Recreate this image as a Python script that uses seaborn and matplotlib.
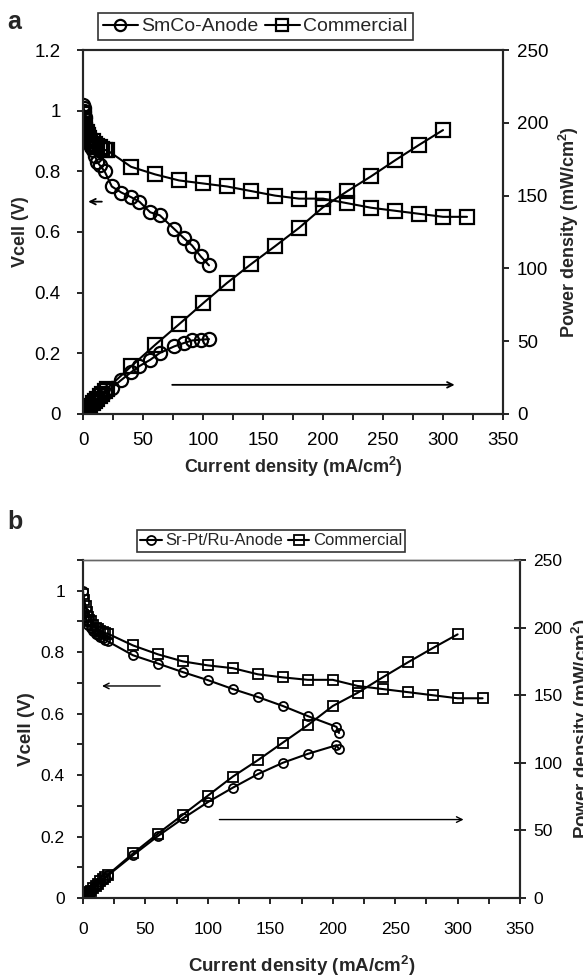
import numpy as np
import pandas as pd
import matplotlib
matplotlib.use('Agg')
import matplotlib.pyplot as plt
import seaborn as sns
from matplotlib.ticker import MultipleLocator

sns.set_style('ticks')
plt.rcParams['font.family'] = ['Liberation Sans', 'DejaVu Sans']
plt.rcParams['mathtext.fontset'] = 'custom'
plt.rcParams['mathtext.bf'] = 'Liberation Sans:bold'
plt.rcParams['mathtext.rm'] = 'Liberation Sans'

# panel a - SmCo anode vs commercial
smco_i = [0, 0.5, 1, 1.5, 2, 3, 4, 5, 6, 7, 8, 10, 12, 14, 18, 24, 32, 40, 47, 56, 64, 76, 84, 91, 98, 105]
smco_v = [1.02, 1.01, 1.0, 0.98, 0.96, 0.94, 0.92, 0.90, 0.89, 0.88, 0.87, 0.85, 0.83, 0.82, 0.80,
          0.75, 0.73, 0.715, 0.70, 0.665, 0.655, 0.61, 0.58, 0.555, 0.52, 0.49]
smco_p = [0, 0.5, 1.0, 1.5, 1.9, 2.8, 3.7, 4.5, 5.3, 6.2, 7.0, 8.5, 10.0, 11.5, 14.4,
          18.0, 23.4, 28.6, 32.9, 37.2, 41.9, 46.4, 48.7, 50.5, 51.0, 51.4]

comm_a_i = [0, 1, 2, 3, 4, 5, 6, 8, 10, 12, 14, 16, 18, 20, 40, 60, 80, 100, 120, 140, 160,
            180, 200, 220, 240, 260, 280, 300, 320]
comm_a_v = [0.99, 0.97, 0.95, 0.93, 0.92, 0.91, 0.90, 0.90, 0.89, 0.885, 0.88, 0.875, 0.87, 0.87,
            0.815, 0.79, 0.77, 0.76, 0.75, 0.735, 0.72, 0.71, 0.71, 0.695, 0.68, 0.67, 0.66, 0.65, 0.65]
comm_a_pi = comm_a_i[:-1]
comm_a_p = [0, 1.0, 1.9, 2.8, 3.7, 4.6, 5.4, 7.2, 8.9, 10.6, 12.3, 14.0, 15.7, 17.4,
            32.6, 47.4, 61.6, 76.0, 90.0, 102.9, 115.2, 127.8, 142.0, 152.9, 163.2, 174.2, 184.8, 195.0]

# panel b - Sr-Pt/Ru anode vs commercial
sr_i = [0, 1, 2, 3, 4, 6, 8, 10, 12, 14, 16, 18, 20, 40, 60, 80, 100, 120, 140, 160, 180, 203, 205]
sr_v = [1.0, 0.93, 0.915, 0.90, 0.89, 0.88, 0.87, 0.86, 0.855, 0.85, 0.845, 0.84, 0.835,
        0.79, 0.763, 0.735, 0.709, 0.68, 0.654, 0.625, 0.592, 0.557, 0.537]
sr_p = [0, 0.9, 1.8, 2.7, 3.6, 5.3, 7.0, 8.6, 10.3, 11.9, 13.5, 15.1, 16.7,
        31.6, 45.8, 58.8, 70.9, 81.6, 91.6, 100.0, 106.6, 113.0, 110.1]

comm_b_i = [0, 1, 2, 3, 4, 5, 6, 8, 10, 12, 14, 16, 18, 20, 40, 60, 80, 100, 120, 140, 160,
            180, 200, 220, 240, 260, 280, 300, 320]
comm_b_v = [0.99, 0.97, 0.95, 0.93, 0.915, 0.905, 0.90, 0.89, 0.88, 0.875, 0.87, 0.865, 0.862, 0.86,
            0.822, 0.793, 0.77, 0.757, 0.748, 0.728, 0.718, 0.71, 0.71, 0.69, 0.68, 0.67, 0.66, 0.65, 0.65]
comm_b_pi = comm_b_i[:-1]
comm_b_p = [0, 1.0, 1.9, 2.8, 3.7, 4.5, 5.4, 7.1, 8.8, 10.5, 12.2, 13.8, 15.5, 17.2,
            32.9, 47.6, 61.6, 75.7, 89.8, 101.9, 114.9, 127.8, 142.0, 151.8, 163.2, 174.2, 184.8, 195.0]

fig = plt.figure(figsize=(5.83, 9.77), dpi=100)
ax_a = fig.add_axes([0.1424, 0.5763, 0.7204, 0.3725])
ax_b = fig.add_axes([0.1424, 0.0809, 0.7496, 0.3459])


def draw(ax, x, y, marker, ms, mew):
    sns.lineplot(x=x, y=y, ax=ax, color='k', lw=1.5, marker=marker, markersize=ms,
                 markerfacecolor='none', markeredgecolor='k', markeredgewidth=mew,
                 estimator=None, sort=False)


def style_axes(ax, ax2, ymax, size, lsize):
    ax.set_xlim(0, 350)
    ax.set_ylim(0, ymax)
    ax2.set_ylim(0, 250)
    ax.xaxis.set_major_locator(MultipleLocator(50))
    ax.xaxis.set_minor_locator(MultipleLocator(25))
    ax.yaxis.set_major_locator(MultipleLocator(0.2))
    ax2.yaxis.set_major_locator(MultipleLocator(50))
    ax.yaxis.set_major_formatter(plt.FuncFormatter(lambda v, p: f'{v:g}'))
    for a in (ax, ax2):
        for s in a.spines.values():
            s.set_linewidth(1.5)
            s.set_visible(True)
        a.tick_params(which='both', direction='out', width=1.2, colors='k', labelsize=size)
        a.tick_params(which='major', length=4)
        a.tick_params(which='minor', length=4)
    ax.set_xlabel('Current density (mA/cm$^\\mathbf{2}$)', fontsize=lsize, fontweight='bold')
    ax.set_ylabel('Vcell (V)', fontsize=lsize, fontweight='bold')
    ax2.set_ylabel('Power density (mW/cm$^\\mathbf{2}$)', fontsize=lsize, fontweight='bold')


# ---- panel a
ax2_a = ax_a.twinx()
draw(ax_a, smco_i, smco_v, 'o', 9.5, 1.6)
draw(ax_a, comm_a_i, comm_a_v, 's', 10, 1.6)
draw(ax2_a, smco_i, smco_p, 'o', 9.5, 1.6)
draw(ax2_a, comm_a_pi, comm_a_p, 's', 10, 1.6)
style_axes(ax_a, ax2_a, 1.2, 13.5, 13)
ax_a.tick_params(axis='x', which='both', pad=9)
ax_a.tick_params(axis='y', which='both', pad=12)
ax2_a.tick_params(axis='y', which='both', pad=6)
ax_a.xaxis.labelpad = 4
ax_a.yaxis.labelpad = 4
ax2_a.yaxis.labelpad = 6
ax_a.annotate('', xy=(2, 0.7), xytext=(18, 0.7),
              arrowprops=dict(arrowstyle='->', color='k', lw=1.3))
ax2_a.annotate('', xy=(312, 20), xytext=(72, 20),
               arrowprops=dict(arrowstyle='->', color='k', lw=1.3))
h = ax_a.get_lines()
ax_a.legend([h[0], h[1]], ['SmCo-Anode', 'Commercial'], ncol=2, loc='lower center',
            bbox_to_anchor=(0.41, 1.0), fontsize=14, frameon=True, fancybox=False,
            edgecolor='k', handlelength=1.8, handletextpad=0.2, columnspacing=0.3,
            borderpad=0.25, markerscale=0.85).get_frame().set_linewidth(1.2)
fig.text(0.012, 0.977, 'a', fontsize=18, fontweight='bold', va='center')

# ---- panel b
ax2_b = ax_b.twinx()
draw(ax_b, sr_i, sr_v, 'o', 6.5, 1.3)
draw(ax_b, comm_b_i, comm_b_v, 's', 6.5, 1.3)
draw(ax2_b, sr_i, sr_p, 'o', 6.5, 1.3)
draw(ax2_b, comm_b_pi, comm_b_p, 's', 6.5, 1.3)
style_axes(ax_b, ax2_b, 1.1, 12.5, 13.5)
ax_b.yaxis.set_minor_locator(MultipleLocator(0.1))
ax_b.tick_params(axis='x', which='both', pad=13)
ax_b.tick_params(axis='y', which='both', pad=9)
ax2_b.tick_params(axis='y', which='both', direction='inout', length=9, pad=5)
ax_b.xaxis.labelpad = 12
ax2_b.yaxis.labelpad = 5
ax_b.spines['top'].set_linewidth(1.0)
ax_b.spines['top'].set_color('0.4')
ax2_b.spines['top'].set_linewidth(1.0)
ax2_b.spines['top'].set_color('0.4')
ax_b.annotate('', xy=(13, 0.69), xytext=(64, 0.69),
              arrowprops=dict(arrowstyle='->', color='k', lw=1.0))
ax2_b.annotate('', xy=(307, 58), xytext=(107, 58),
               arrowprops=dict(arrowstyle='->', color='k', lw=1.0))
h = ax_b.get_lines()
ax_b.legend([h[0], h[1]], ['Sr-Pt/Ru-Anode', 'Commercial'], ncol=2, loc='lower center',
            bbox_to_anchor=(0.43, 1.0), fontsize=12, frameon=True, fancybox=False,
            edgecolor='k', handlelength=1.3, handletextpad=0.2, columnspacing=0.3,
            borderpad=0.2).get_frame().set_linewidth(1.2)
fig.text(0.012, 0.466, 'b', fontsize=18, fontweight='bold', va='center')

plt.savefig('out.png', dpi=100)
